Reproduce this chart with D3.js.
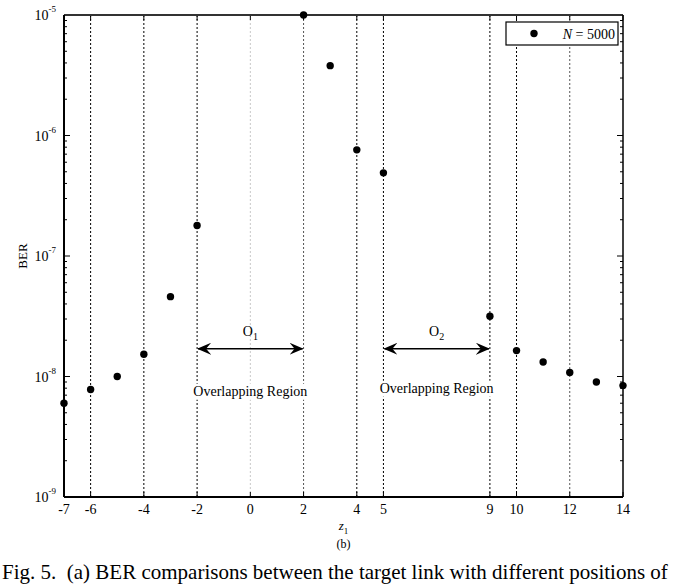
<!DOCTYPE html>
<html>
<head>
<meta charset="utf-8">
<script src="https://cdn.jsdelivr.net/npm/d3@7"></script>
<style>
  body { margin: 0; background: white; }
  svg text { font-family: "Liberation Serif", "Times New Roman", serif; fill: #000; }
</style>
</head>
<body>
<svg id="chart" width="676" height="588"></svg>
<script>
// positions z1 and measured BER
const positions = [-7, -6, -5, -4, -3, -2, 2, 3, 4, 5, 9, 10, 11, 12, 13, 14];
const berValues = [6.0e-9, 7.8e-9, 1.0e-8, 1.53e-8, 4.6e-8, 1.79e-7, 1.0e-5, 3.8e-6, 7.6e-7, 4.9e-7,
                   3.16e-8, 1.64e-8, 1.32e-8, 1.08e-8, 9.0e-9, 8.4e-9];
const xTicks = [-7, -6, -4, -2, 0, 2, 4, 5, 9, 10, 12, 14];
const gridLines = [-6, -4, -2, 2, 4, 5, 9, 10, 12];
const yTicks = [1e-9, 1e-8, 1e-7, 1e-6, 1e-5];
const regions = [
    { from: -2, to: 2, name: "O", sub: "1" },
    { from: 5, to: 9, name: "O", sub: "2" }
];

const svg = d3.select("#chart");
const margin = { top: 15, right: 53, bottom: 91, left: 64 };
const width = 676, height = 588;

const x = d3.scaleLinear().domain([-7, 14]).range([margin.left, width - margin.right]);
const y = d3.scaleLog().domain([1e-9, 1e-5]).range([height - margin.bottom, margin.top]);

const x0 = x.range()[0], x1 = x.range()[1];
const y0 = y.range()[0], y1 = y.range()[1];

svg.append("defs").append("marker")
    .attr("id", "head")
    .attr("viewBox", "0 0 14 12")
    .attr("refX", 13).attr("refY", 6)
    .attr("markerWidth", 14).attr("markerHeight", 12)
    .attr("markerUnits", "userSpaceOnUse")
    .attr("orient", "auto-start-reverse")
    .append("path")
    .attr("d", "M0,0 L14,6 L0,12 L5,6 Z")
    .attr("fill", "#000");

// zero line, light grey
svg.append("line")
    .attr("x1", x(0)).attr("x2", x(0))
    .attr("y1", y1).attr("y2", y0)
    .attr("stroke", "#c8c8c8").attr("stroke-dasharray", "2,2");

// dashed verticals
svg.selectAll(".grid-line")
    .data(gridLines)
    .enter()
    .append("line")
    .attr("class", "grid-line")
    .attr("x1", d => x(d)).attr("x2", d => x(d))
    .attr("y1", y1).attr("y2", y0)
    .attr("stroke", d => (d === 2 || d === 12) ? "#555" : "#000")
    .attr("stroke-dasharray", "2,2");

// minor + major y ticks on both sides
const minorVals = [];
for (let e = -9; e < -5; e++) {
    for (let m = 1; m < 10; m++) minorVals.push(m * Math.pow(10, e));
}
minorVals.push(1e-5);
const isMajor = d => yTicks.some(t => Math.abs(t - d) / t < 1e-6);
svg.selectAll(".ytick-l")
    .data(minorVals)
    .enter()
    .append("line")
    .attr("x1", x0).attr("x2", d => x0 + (isMajor(d) ? 6 : 3))
    .attr("y1", d => y(d)).attr("y2", d => y(d))
    .attr("stroke", "#000");
svg.selectAll(".ytick-r")
    .data(minorVals)
    .enter()
    .append("line")
    .attr("x1", x1).attr("x2", d => x1 - (isMajor(d) ? 6 : 3))
    .attr("y1", d => y(d)).attr("y2", d => y(d))
    .attr("stroke", "#000");

// x ticks top and bottom
xTicks.forEach(t => {
    svg.append("line").attr("x1", x(t)).attr("x2", x(t)).attr("y1", y0).attr("y2", y0 - 5).attr("stroke", "#000");
    svg.append("line").attr("x1", x(t)).attr("x2", x(t)).attr("y1", y1).attr("y2", y1 + 5).attr("stroke", "#000");
});

// frame
svg.append("line").attr("x1", x0).attr("x2", x1).attr("y1", y1).attr("y2", y1)
    .attr("stroke", "#333").attr("stroke-width", 2);
svg.append("line").attr("x1", x1).attr("x2", x1).attr("y1", y1).attr("y2", y0)
    .attr("stroke", "#000").attr("stroke-width", 1.5);
svg.append("line").attr("x1", x0).attr("x2", x1).attr("y1", y0).attr("y2", y0)
    .attr("stroke", "#000").attr("stroke-width", 2);
svg.append("line").attr("x1", x0).attr("x2", x0).attr("y1", y1).attr("y2", y0)
    .attr("stroke", "#000").attr("stroke-width", 2);

// x tick labels
svg.selectAll(".x-label")
    .data(xTicks)
    .enter()
    .append("text")
    .attr("x", d => x(d))
    .attr("y", y0 + 17)
    .attr("text-anchor", "middle")
    .attr("font-size", 14)
    .text(d => d);

// y tick labels: 10^e
const yl = svg.selectAll(".y-label")
    .data(yTicks)
    .enter()
    .append("text")
    .attr("x", x0 - 8)
    .attr("y", d => y(d) + 5)
    .attr("text-anchor", "end")
    .attr("font-size", 14);
yl.append("tspan").text("10");
yl.append("tspan").attr("dy", -8).attr("font-size", 9).text(d => Math.round(Math.log10(d)));

// axis titles
svg.append("text")
    .attr("transform", `translate(27, ${(y0 + y1) / 2}) rotate(-90)`)
    .attr("text-anchor", "middle")
    .attr("font-size", 13)
    .text("BER");

const zt = svg.append("text")
    .attr("x", (x0 + x1) / 2)
    .attr("y", y0 + 33)
    .attr("text-anchor", "middle")
    .attr("font-size", 13);
zt.append("tspan").attr("font-style", "italic").text("z");
zt.append("tspan").attr("dy", 4).attr("font-size", 9).text("1");

svg.append("text")
    .attr("x", (x0 + x1) / 2)
    .attr("y", y0 + 51)
    .attr("text-anchor", "middle")
    .attr("font-size", 12)
    .text("(b)");

// overlapping regions
const arrowY = y(1.7e-8);
regions.forEach(r => {
    svg.append("line")
        .attr("x1", x(r.from) + 1).attr("x2", x(r.to) - 1)
        .attr("y1", arrowY).attr("y2", arrowY)
        .attr("stroke", "#000").attr("stroke-width", 1.4)
        .attr("marker-start", "url(#head)")
        .attr("marker-end", "url(#head)");
    const cx = x((r.from + r.to) / 2);
    const lab = svg.append("text")
        .attr("x", cx).attr("y", arrowY - 13)
        .attr("text-anchor", "middle")
        .attr("font-size", 14);
    lab.append("tspan").text(r.name);
    lab.append("tspan").attr("dy", 4).attr("font-size", 10).text(r.sub);
    const ty = arrowY + (r.sub === "1" ? 47 : 44);
    svg.append("rect")
        .attr("x", cx - 58).attr("y", ty - 12)
        .attr("width", 116).attr("height", 16)
        .attr("fill", "white");
    svg.append("text")
        .attr("x", cx).attr("y", ty)
        .attr("text-anchor", "middle")
        .attr("font-size", 14)
        .text("Overlapping Region");
});

// points
const pts = positions.map((p, i) => ({ z: p, ber: berValues[i] }));
svg.selectAll(".pt")
    .data(pts)
    .enter()
    .append("circle")
    .attr("class", "pt")
    .attr("cx", d => x(d.z))
    .attr("cy", d => y(d.ber))
    .attr("r", 3.7)
    .attr("fill", "#000");

// legend
const lg = svg.append("g").attr("transform", "translate(506, 22)");
lg.append("rect").attr("width", 112).attr("height", 23)
    .attr("fill", "white").attr("stroke", "#000").attr("stroke-width", 1.2);
lg.append("circle").attr("cx", 28).attr("cy", 11.5).attr("r", 3.7).attr("fill", "#000");
const lt = lg.append("text").attr("x", 109).attr("y", 16.5).attr("text-anchor", "end").attr("font-size", 14);
lt.append("tspan").attr("font-style", "italic").text("N");
lt.append("tspan").text(" = 5000");

// caption
svg.append("text")
    .attr("x", 2)
    .attr("y", 579)
    .attr("font-size", 21)
    .style("white-space", "pre")
    .text("Fig. 5.  (a) BER comparisons between the target link with different positions of");
</script>
</body>
</html>
